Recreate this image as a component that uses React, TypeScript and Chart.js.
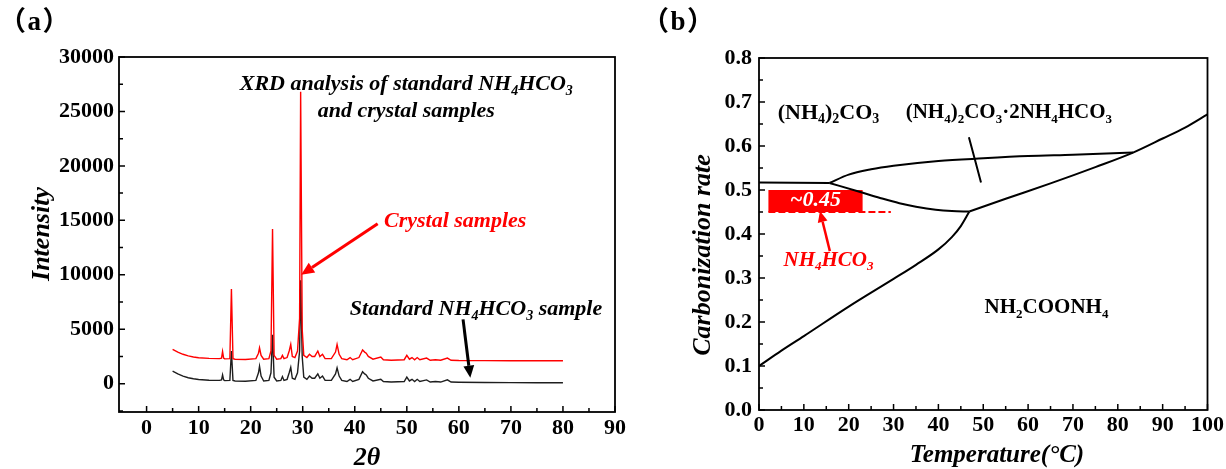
import React, { useEffect, useRef } from "react";
import { Chart, registerables } from "chart.js";

Chart.register(...registerables);

const SERIF = '"Liberation Serif", "Times New Roman", "DejaVu Serif", serif';

// ---------- (a) XRD data ----------
const twoTheta = [
  5, 6, 7, 8, 9, 10, 12, 14, 14.4, 14.6, 14.8, 15, 16, 16.3, 16.6, 17, 19, 21, 21.5, 21.7,
  22, 22.5, 23.5, 23.9, 24.2, 24.5, 25, 25.8, 26.1, 26.4, 27, 27.4, 27.7, 28, 28.5, 29, 29.4, 29.6, 29.9, 30.2,
  30.8, 31.3, 31.8, 32.3, 32.9, 33.3, 33.8, 34.3, 35.5, 36.3, 36.6, 37, 37.5, 38.5, 39.1, 39.6, 40.8, 41.5, 41.9, 42.2,
  42.6, 43.5, 45, 45.5, 47, 49.5, 50, 50.5, 51, 51.5, 52, 52.5, 53.8, 54.5, 55.5, 56.5, 57.8, 58.5, 60, 65,
  70, 75, 80,
];
const crystalIntensity = [
  3150, 2900, 2700, 2550, 2450, 2380, 2320, 2300, 2350, 2950, 2350, 2280, 2300, 8700, 2300, 2250, 2220, 2300, 2800, 3300,
  2600, 2250, 2300, 3000, 14200, 2600, 2250, 2300, 2600, 2300, 2400, 3000, 3600, 2500, 2400, 3000, 6000, 26800, 5000, 2600,
  2400, 2700, 2500, 2500, 3000, 2500, 2700, 2300, 2300, 2900, 3600, 2700, 2300, 2200, 2400, 2200, 2400, 3100, 2900, 2800,
  2500, 2250, 2450, 2200, 2150, 2200, 2600, 2250, 2400, 2200, 2400, 2200, 2350, 2150, 2200, 2150, 2350, 2150, 2130, 2120,
  2110, 2100, 2100,
];
const standardIntensity = [
  1150, 900, 700, 550, 450, 380, 320, 300, 350, 800, 350, 280, 300, 3000, 300, 250, 230, 300, 1000, 1600,
  700, 250, 300, 1000, 4500, 600, 250, 300, 650, 300, 400, 1000, 1500, 500, 400, 1000, 3000, 9500, 2500, 600,
  400, 700, 500, 500, 900, 500, 700, 300, 300, 900, 1450, 700, 300, 200, 400, 200, 400, 1100, 900, 800,
  500, 250, 400, 200, 150, 200, 600, 250, 400, 200, 400, 200, 350, 150, 200, 150, 350, 150, 130, 110,
  100, 90, 80,
];
const xrdXTicks = [0, 10, 20, 30, 40, 50, 60, 70, 80, 90];
const xrdXMinor = [5, 15, 25, 35, 45, 55, 65, 75, 85];
const xrdYTicks = [0, 5000, 10000, 15000, 20000, 25000, 30000];
const xrdYMinor = [-2500, 2500, 7500, 12500, 17500, 22500, 27500];

// ---------- (b) phase diagram data ----------
const carbamateT = [0, 5, 10, 20, 30, 35, 40, 43, 45, 46.9];
const carbamateR = [0.1, 0.135, 0.168, 0.235, 0.298, 0.33, 0.365, 0.393, 0.418, 0.451];
const rightT = [46.9, 55, 65, 75, 83.4, 90, 95, 100];
const rightR = [0.451, 0.48, 0.515, 0.552, 0.585, 0.617, 0.642, 0.672];
const upperT = [15.7, 20, 25, 30, 40, 50, 60, 70, 83.4];
const upperR = [0.516, 0.535, 0.547, 0.555, 0.566, 0.572, 0.577, 0.58, 0.585];
const flatT = [0, 15.7];
const flatR = [0.517, 0.516];
const lowerT = [15.7, 22.4, 27, 31.3, 35, 39.4, 43, 46.9];
const lowerR = [0.516, 0.496, 0.482, 0.47, 0.462, 0.455, 0.452, 0.451];
const tieT = [46.8, 49.5];
const tieR = [0.62, 0.517];
const bicarbT = [2.1, 29.4];
const bicarbR = [0.45, 0.45];
const boxT = [2.1, 23.1];
const boxR = [0.45, 0.5];
const phXTicks = [0, 10, 20, 30, 40, 50, 60, 70, 80, 90, 100];
const phXMinor = [5, 15, 25, 35, 45, 55, 65, 75, 85, 95];
const phYTicks = [0, 0.1, 0.2, 0.3, 0.4, 0.5, 0.6, 0.7, 0.8];
const phYMinor = [0.05, 0.15, 0.25, 0.35, 0.45, 0.55, 0.65, 0.75];

const pts = (xs: number[], ys: number[]) => xs.map((x, i) => ({ x, y: ys[i] }));

type Note = { text: string; x: number; y: number; size: number; style: string; color: string };
type Arrow = { x1: number; y1: number; x2: number; y2: number; color: string; width: number; head: number };
type Rect = { x1: number; x2: number; y1: number; y2: number; color: string };
type Title = { text: string; x: number; y: number; rotate: boolean; size: number };
type Decor = {
  xMajor: number[];
  xMinor: number[];
  yMajor: number[];
  yMinor: number[];
  notes: Note[];
  arrows: Arrow[];
  rects: Rect[];
  titles: Title[];
};

function parseRich(s: string): [string, boolean][] {
  const out: [string, boolean][] = [];
  let cur = "";
  for (let i = 0; i < s.length; i++) {
    if (s[i] === "_" && i + 1 < s.length) {
      if (cur) out.push([cur, false]);
      cur = "";
      out.push([s[i + 1], true]);
      i++;
    } else cur += s[i];
  }
  if (cur) out.push([cur, false]);
  return out;
}

function drawRich(ctx: CanvasRenderingContext2D, text: string, x: number, y: number, size: number, style: string, color: string) {
  const segs = parseRich(text);
  const base = `${style} ${size}px ${SERIF}`;
  const sub = `${style} ${Math.round(size * 0.62)}px ${SERIF}`;
  let w = 0;
  for (const [t, s] of segs) {
    ctx.font = s ? sub : base;
    w += ctx.measureText(t).width;
  }
  let cx = x - w / 2;
  ctx.fillStyle = color;
  ctx.textBaseline = "middle";
  ctx.textAlign = "left";
  for (const [t, s] of segs) {
    ctx.font = s ? sub : base;
    ctx.fillText(t, cx, s ? y + size * 0.3 : y);
    cx += ctx.measureText(t).width;
  }
}

function drawArrow(ctx: CanvasRenderingContext2D, x1: number, y1: number, x2: number, y2: number, color: string, width: number, head: number) {
  const ang = Math.atan2(y2 - y1, x2 - x1);
  const bx = x2 - head * Math.cos(ang);
  const by = y2 - head * Math.sin(ang);
  ctx.strokeStyle = color;
  ctx.fillStyle = color;
  ctx.lineWidth = width;
  ctx.beginPath();
  ctx.moveTo(x1, y1);
  ctx.lineTo(bx, by);
  ctx.stroke();
  const hw = head * 0.45;
  ctx.beginPath();
  ctx.moveTo(x2, y2);
  ctx.lineTo(bx + hw * Math.sin(ang), by - hw * Math.cos(ang));
  ctx.lineTo(bx - hw * Math.sin(ang), by + hw * Math.cos(ang));
  ctx.closePath();
  ctx.fill();
}

function makeDecor(d: Decor) {
  return {
    id: "decor",
    beforeDatasetsDraw(chart: any) {
      const { ctx, scales } = chart;
      const xs = scales.x;
      const ys = scales.y;
      ctx.save();
      for (const r of d.rects) {
        const px1 = xs.getPixelForValue(r.x1);
        const px2 = xs.getPixelForValue(r.x2);
        const py1 = ys.getPixelForValue(r.y1);
        const py2 = ys.getPixelForValue(r.y2);
        ctx.fillStyle = r.color;
        ctx.fillRect(px1, py2, px2 - px1, py1 - py2);
      }
      ctx.restore();
    },
    afterDraw(chart: any) {
      const { ctx, chartArea: a, scales } = chart;
      const xs = scales.x;
      const ys = scales.y;
      ctx.save();
      ctx.strokeStyle = "#000";
      ctx.lineWidth = 1.8;
      ctx.strokeRect(a.left, a.top, a.right - a.left, a.bottom - a.top);
      ctx.lineWidth = 1.5;
      ctx.beginPath();
      const tickX = (vals: number[], len: number) => {
        for (const v of vals) {
          const px = xs.getPixelForValue(v);
          ctx.moveTo(px, a.bottom);
          ctx.lineTo(px, a.bottom - len);
        }
      };
      const tickY = (vals: number[], len: number) => {
        for (const v of vals) {
          const py = ys.getPixelForValue(v);
          ctx.moveTo(a.left, py);
          ctx.lineTo(a.left + len, py);
        }
      };
      tickX(d.xMajor, 6);
      tickX(d.xMinor, 4);
      tickY(d.yMajor, 6);
      tickY(d.yMinor, 4);
      ctx.stroke();

      for (const ar of d.arrows) {
        drawArrow(
          ctx,
          xs.getPixelForValue(ar.x1),
          ys.getPixelForValue(ar.y1),
          xs.getPixelForValue(ar.x2),
          ys.getPixelForValue(ar.y2),
          ar.color,
          ar.width,
          ar.head
        );
      }
      for (const n of d.notes) {
        drawRich(ctx, n.text, xs.getPixelForValue(n.x), ys.getPixelForValue(n.y), n.size, n.style, n.color);
      }
      for (const t of d.titles) {
        ctx.save();
        ctx.translate(t.x, t.y);
        if (t.rotate) ctx.rotate(-Math.PI / 2);
        drawRich(ctx, t.text, 0, 0, t.size, "italic bold", "#000");
        ctx.restore();
      }
      ctx.restore();
    },
  };
}

const tickFont = { family: SERIF, size: 22, weight: "bold" as const };

function xrdConfig(): any {
  return {
    type: "line",
    data: {
      datasets: [
        {
          label: "Crystal samples",
          data: pts(twoTheta, crystalIntensity),
          borderColor: "#ff0000",
          borderWidth: 1.4,
          pointRadius: 0,
          tension: 0,
        },
        {
          label: "Standard NH4HCO3 sample",
          data: pts(twoTheta, standardIntensity),
          borderColor: "#1e1e1e",
          borderWidth: 1.4,
          pointRadius: 0,
          tension: 0,
        },
      ],
    },
    options: {
      responsive: false,
      animation: false,
      layout: { padding: { top: 57, right: 30, left: 0, bottom: 0 } },
      plugins: { legend: { display: false }, tooltip: { enabled: false } },
      scales: {
        x: {
          type: "linear",
          min: -5.3,
          max: 90,
          grid: { display: false, drawTicks: false },
          border: { display: false },
          afterBuildTicks: (s: any) => {
            s.ticks = xrdXTicks.map((v) => ({ value: v }));
          },
          afterFit: (s: any) => {
            s.height = 57;
          },
          ticks: { font: tickFont, color: "#000", padding: 3, maxRotation: 0, autoSkip: false, callback: (v: any) => String(v) },
        },
        y: {
          type: "linear",
          min: -2600,
          max: 30000,
          grid: { display: false, drawTicks: false },
          border: { display: false },
          afterBuildTicks: (s: any) => {
            s.ticks = xrdYTicks.map((v) => ({ value: v }));
          },
          afterFit: (s: any) => {
            s.width = 119;
          },
          ticks: { font: tickFont, color: "#000", padding: 5, autoSkip: false, callback: (v: any) => String(v) },
        },
      },
    },
    plugins: [
      makeDecor({
        xMajor: xrdXTicks,
        xMinor: xrdXMinor,
        yMajor: xrdYTicks,
        yMinor: xrdYMinor,
        rects: [],
        arrows: [
          { x1: 44.4, y1: 14690, x2: 29.7, y2: 10000, color: "#ff0000", width: 3, head: 13 },
          { x1: 60.8, y1: 5900, x2: 62.2, y2: 550, color: "#000", width: 3, head: 12 },
        ],
        notes: [
          { text: "XRD analysis of standard NH_4HCO_3", x: 49.9, y: 27460, size: 22, style: "italic bold", color: "#000" },
          { text: "and crystal samples", x: 49.9, y: 25000, size: 22, style: "italic bold", color: "#000" },
          { text: "Crystal samples", x: 59.3, y: 14900, size: 22, style: "italic bold", color: "#ff0000" },
          { text: "Standard NH_4HCO_3 sample", x: 63.3, y: 6800, size: 22, style: "italic bold", color: "#000" },
        ],
        titles: [
          { text: "Intensity", x: 42, y: 234, rotate: true, size: 26 },
          { text: "2θ", x: 367, y: 458, rotate: false, size: 26 },
        ],
      }),
    ],
  };
}

function phaseConfig(): any {
  const line = (xs: number[], ys: number[], label: string) => ({
    label,
    data: pts(xs, ys),
    borderColor: "#000",
    borderWidth: 2,
    pointRadius: 0,
    cubicInterpolationMode: "monotone",
  });
  return {
    type: "line",
    data: {
      datasets: [
        {
          label: "NH4HCO3 ~0.45",
          data: pts(bicarbT, bicarbR),
          borderColor: "#ff0000",
          borderWidth: 2,
          borderDash: [7, 3],
          pointRadius: 0,
        },
        line(carbamateT, carbamateR, "carbamate boundary"),
        line(rightT, rightR, "right boundary"),
        line(upperT, upperR, "upper boundary"),
        line(flatT, flatR, "flat boundary"),
        line(lowerT, lowerR, "lower boundary"),
        line(tieT, tieR, "tie"),
      ],
    },
    options: {
      responsive: false,
      animation: false,
      layout: { padding: { top: 58, right: 17, left: 0, bottom: 0 } },
      plugins: { legend: { display: false }, tooltip: { enabled: false } },
      scales: {
        x: {
          type: "linear",
          min: 0,
          max: 100,
          grid: { display: false, drawTicks: false },
          border: { display: false },
          afterBuildTicks: (s: any) => {
            s.ticks = phXTicks.map((v) => ({ value: v }));
          },
          afterFit: (s: any) => {
            s.height = 59;
          },
          ticks: { font: tickFont, color: "#000", padding: 2, maxRotation: 0, autoSkip: false, callback: (v: any) => String(v) },
        },
        y: {
          type: "linear",
          min: 0,
          max: 0.8,
          grid: { display: false, drawTicks: false },
          border: { display: false },
          afterBuildTicks: (s: any) => {
            s.ticks = phYTicks.map((v) => ({ value: v }));
          },
          afterFit: (s: any) => {
            s.width = 114;
          },
          ticks: { font: tickFont, color: "#000", padding: 7, autoSkip: false, callback: (v: any) => Number(v).toFixed(1) },
        },
      },
    },
    plugins: [
      makeDecor({
        xMajor: phXTicks,
        xMinor: phXMinor,
        yMajor: phYTicks,
        yMinor: phYMinor,
        rects: [{ x1: boxT[0], x2: boxT[1], y1: boxR[0], y2: boxR[1], color: "#ff0000" }],
        arrows: [{ x1: 15.8, y1: 0.361, x2: 13.6, y2: 0.452, color: "#ff0000", width: 2.5, head: 11 }],
        notes: [
          { text: "(NH_4)_2CO_3", x: 15.5, y: 0.675, size: 22, style: "bold", color: "#000" },
          { text: "(NH_4)_2CO_3·2NH_4HCO_3", x: 55.7, y: 0.675, size: 21, style: "bold", color: "#000" },
          { text: "NH_2COONH_4", x: 64.1, y: 0.232, size: 21, style: "bold", color: "#000" },
          { text: "~0.45", x: 12.6, y: 0.477, size: 22, style: "italic bold", color: "#ffffff" },
          { text: "NH_4HCO_3", x: 15.5, y: 0.339, size: 21, style: "italic bold", color: "#ff0000" },
        ],
        titles: [
          { text: "Carbonization rate", x: 58, y: 255, rotate: true, size: 26 },
          { text: "Temperature(°C)", x: 352, y: 456, rotate: false, size: 25 },
        ],
      }),
    ],
  };
}

function ChartCanvas({ width, height, left, make }: { width: number; height: number; left: number; make: () => any }) {
  const ref = useRef<HTMLCanvasElement | null>(null);
  useEffect(() => {
    if (!ref.current) return;
    const chart = new Chart(ref.current, make());
    return () => chart.destroy();
  }, [make]);
  return (
    <canvas
      ref={ref}
      width={width}
      height={height}
      style={{ position: "absolute", left, top: 0, width, height, display: "block" }}
    />
  );
}

const panelLabel: React.CSSProperties = {
  position: "absolute",
  top: 6,
  fontFamily: '"Liberation Serif", "Noto Sans CJK SC", serif',
  fontWeight: "bold",
  fontSize: 27,
  lineHeight: "30px",
  letterSpacing: 1.5,
  color: "#000",
  whiteSpace: "nowrap",
};

export default function App() {
  return (
    <div style={{ position: "absolute", left: 0, top: 0, width: 1226, height: 469, background: "#fff", overflow: "hidden" }}>
      <ChartCanvas width={645} height={469} left={0} make={xrdConfig} />
      <ChartCanvas width={581} height={469} left={645} make={phaseConfig} />
      <div style={{ ...panelLabel, left: -1 }}>（a）</div>
      <div style={{ ...panelLabel, left: 642 }}>（b）</div>
    </div>
  );
}
